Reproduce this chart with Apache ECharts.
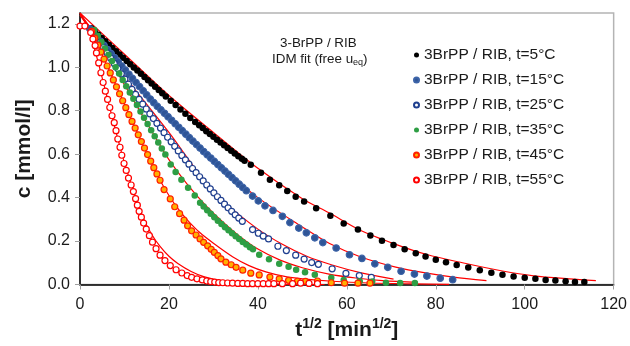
<!DOCTYPE html>
<html>
<head>
<meta charset="utf-8">
<script src="https://cdn.jsdelivr.net/npm/echarts@6/dist/echarts.min.js"></script>
<style>
  html, body { margin: 0; padding: 0; background: #fff; }
  #chart { width: 630px; height: 346px; }
</style>
</head>
<body>
<div id="chart"></div>
<script>
// legend names
const names = ['3BrPP / RIB, t=5°C', '3BrPP / RIB, t=15°C', '3BrPP / RIB, t=25°C',
  '3BrPP / RIB, t=35°C', '3BrPP / RIB, t=45°C', '3BrPP / RIB, t=55°C']

// measured points [t^1/2, c]
const d5 = [[2.5,1.18],[3.3,1.165],[4.1,1.15],[4.9,1.135],[5.7,1.12],[6.5,1.104],[7.3,1.089],[8.1,1.074],[8.9,1.059],[9.7,1.044],[10.5,1.029],[11.3,1.014],[12.1,0.999],[12.9,0.985],[13.7,0.97],[14.5,0.955],[15.3,0.94],[16.1,0.925],[16.9,0.911],[17.7,0.896],[18.5,0.881],[19.3,0.866],
  [20.4,0.846],[21.5,0.826],[22.6,0.806],[23.7,0.786],[24.8,0.767],[25.9,0.748],
  [26.8,0.733],[27.6,0.72],[28.4,0.706],[29.2,0.693],[30.0,0.68],[30.8,0.667],[31.6,0.654],[32.4,0.641],[33.2,0.628],[34.0,0.616],[34.8,0.603],[35.6,0.591],[36.4,0.579],[37.0,0.57],
  [38.4,0.551],[40.7,0.515],[42.7,0.482],[44.8,0.457],[46.6,0.43],[48.5,0.404],[50.4,0.382],[53.1,0.351],[56.3,0.316],[59.3,0.281],[62.5,0.253],[65.3,0.226],[67.9,0.202],[70.5,0.182],[73.0,0.162],[75.5,0.144],[77.7,0.129],[80.0,0.114],[82.3,0.102],[84.7,0.09],[87.3,0.078],[89.9,0.066],[92.5,0.054],[95.0,0.045],[97.5,0.037],[100.0,0.031],[102.4,0.026],[104.7,0.021],[106.9,0.018],[109.2,0.015],[111.3,0.012],[113.4,0.011]]

const d15 = [[2.2,1.177],[3.0,1.158],[3.8,1.139],[4.6,1.12],[5.4,1.101],[6.2,1.082],[7.0,1.063],[7.8,1.044],[8.6,1.025],[9.4,1.006],[10.2,0.987],[11.0,0.968],[11.8,0.949],[12.6,0.93],[13.4,0.911],[14.2,0.892],[15.0,0.873],[15.8,0.854],[16.6,0.837],[17.4,0.82],[18.2,0.804],[19.0,0.788],[19.8,0.772],[20.6,0.756],[21.4,0.74],[22.2,0.724],[23.0,0.708],[23.8,0.692],[24.6,0.676],[25.4,0.66],[26.2,0.644],[27.0,0.628],[27.8,0.612],[28.6,0.597],[29.4,0.582],[30.2,0.567],[31.0,0.552],[31.8,0.537],[32.6,0.522],[33.4,0.507],[34.2,0.492],[35.0,0.477],[35.8,0.462],[36.6,0.447],[37.4,0.432],
  [38.8,0.407],[40.1,0.385],[41.6,0.362],[43.4,0.341],[45.5,0.314],[47.2,0.285],[49.2,0.26],[50.9,0.238],[52.8,0.215],[54.6,0.193],[57.6,0.168],[60.6,0.137],[63.4,0.12],[66.3,0.095],[69.2,0.079],[72.2,0.061],[75.2,0.048],[78.0,0.039],[81.0,0.029],[83.8,0.022]]

const d25 = [[2.9,1.165],[3.7,1.14],[4.5,1.115],[5.3,1.09],[6.1,1.066],[6.9,1.042],[7.7,1.018],[8.5,0.994],[9.3,0.97],[10.1,0.946],[10.9,0.922],[11.7,0.898],[12.5,0.875],[13.3,0.852],[14.1,0.83],[14.9,0.808],[15.7,0.786],[16.5,0.764],[17.3,0.742],[18.1,0.72],[18.9,0.699],[19.7,0.678],[20.5,0.657],[21.3,0.636],[22.1,0.615],[22.9,0.594],[23.7,0.574],[24.5,0.554],[25.3,0.534],[26.1,0.515],[26.9,0.496],[27.7,0.477],[28.5,0.458],[29.3,0.44],[30.1,0.422],[30.9,0.404],[31.7,0.387],[32.5,0.37],[33.3,0.353],[34.1,0.337],[34.9,0.321],[35.7,0.306],[36.5,0.291],
  [38.8,0.253],[40.1,0.236],[41.2,0.223],[42.4,0.21],[44.5,0.176],[46.4,0.156],[48.5,0.135],[50.4,0.117],[52.1,0.101],[53.6,0.093],[56.7,0.072],[59.8,0.051],[62.8,0.041],[65.5,0.033]]

const d35 = [[3.2,1.172],[4.0,1.145],[4.8,1.116],[5.6,1.087],[6.4,1.058],[7.2,1.029],[8.0,1.0],[8.8,0.971],[9.6,0.942],[10.4,0.913],[11.2,0.884],[12.0,0.855],[12.8,0.826],[13.6,0.797],[14.4,0.768],[15.2,0.739],[16.0,0.71],[16.8,0.682],[17.6,0.654],[18.4,0.626],[19.2,0.598],
  [20.4,0.553],[21.5,0.518],[22.8,0.482],[24.3,0.446],[25.8,0.41],
  [27.0,0.376],[27.8,0.359],[28.6,0.342],[29.4,0.326],[30.2,0.31],[31.0,0.294],[31.8,0.279],[32.6,0.264],[33.4,0.25],[34.2,0.236],[35.0,0.222],[35.8,0.209],[36.6,0.196],[37.4,0.184],[38.2,0.172],[38.9,0.162],
  [40.3,0.137],[42.5,0.116],[44.8,0.095],[46.9,0.082],[48.6,0.068],[50.6,0.056],[52.8,0.045],[56.5,0.031],[59.3,0.021],[62.9,0.015],[65.7,0.014],[68.8,0.008],[72.0,0.007],[75.3,0.007]]

const d45 = [[2.6,1.165],[3.3,1.134],[4.0,1.102],[4.7,1.07],[5.4,1.038],[6.1,1.006],[6.8,0.974],[7.5,0.942],[8.2,0.91],[8.9,0.878],[9.6,0.846],[10.3,0.814],[11.0,0.782],[11.7,0.751],[12.4,0.72],[13.1,0.689],[13.8,0.658],[14.5,0.628],[15.2,0.598],[15.9,0.568],[16.6,0.538],[17.3,0.509],[18.0,0.48],
  [18.9,0.437],[20.3,0.394],[21.3,0.358],[22.4,0.326],[23.4,0.296],[24.2,0.27],[25.1,0.247],[26.1,0.228],[27.0,0.21],[27.8,0.194],[28.7,0.178],[29.5,0.162],[30.2,0.148],[31.0,0.133],[31.7,0.118],[32.8,0.103],[34.0,0.091],[35.1,0.079],[36.6,0.066],[38.4,0.052],[40.3,0.044],[42.7,0.034],[44.8,0.026],[46.9,0.019],[48.9,0.015],[50.7,0.014],[53.4,0.016],[56.5,0.008],[59.5,0.006],[62.5,0.006],[65.2,0.006]]

const d55 = [[0.0,1.19],[1.1,1.19],[2.4,1.16],[2.9,1.13],[3.4,1.1],[3.7,1.066],[4.2,1.02],[4.7,0.975],[5.2,0.93],[5.7,0.89],[6.2,0.852],[6.7,0.815],[7.2,0.777],[7.7,0.745],[8.1,0.708],[8.5,0.67],[9.0,0.632],[9.4,0.595],[9.9,0.557],[10.4,0.525],[10.9,0.49],[11.5,0.458],[12.0,0.428],[12.5,0.395],[12.9,0.365],[13.3,0.337],[13.8,0.31],[14.3,0.283],[14.9,0.255],[15.6,0.225],[16.3,0.195],[17.1,0.165],[18.0,0.135],[19.1,0.11],[20.3,0.087],[21.6,0.068],[22.9,0.053],[24.1,0.041],[25.1,0.033],[26.3,0.026],[27.5,0.021],[28.5,0.016],[29.4,0.013],[30.3,0.011],[31.2,0.009],[32.1,0.008],[33.2,0.007],[34.3,0.006],[35.5,0.005],[36.6,0.005],[37.7,0.004],[38.8,0.004],[40.0,0.004],[41.2,0.004],[42.4,0.004],[43.6,0.004],[45.5,0.004],[47.8,0.004],[49.6,0.006],[51.5,0.005],[53.4,0.004]]

// IDM fit curves
const fit5 = [[0,1.25],[10,1.06],[20,0.87],[30,0.7],[40,0.535],[50,0.395],[56,0.33],[63,0.25],[71,0.185],[78,0.138],[86,0.1],[95,0.062],[102,0.04],[110,0.026],[116,0.018]]
const fit15 = [[0,1.24],[10,1.0],[20,0.77],[30,0.57],[40,0.4],[50,0.265],[56,0.19],[63,0.128],[71,0.08],[78,0.052],[84,0.034],[91.4,0.018]]
const fit25 = [[0,1.24],[10,0.96],[20,0.7],[27,0.505],[33,0.37],[40,0.255],[45.5,0.185],[51,0.13],[56.7,0.09],[63,0.055],[70.5,0.025]]
const fit35 = [[0,1.25],[4,1.13],[8,0.99],[12,0.85],[16,0.71],[20,0.575],[24,0.465],[28,0.37],[32,0.29],[36,0.22],[40,0.163],[45,0.112],[50,0.077],[56,0.048],[62,0.03],[68,0.018],[76,0.01]]
const fit45 = [[0,1.25],[4,1.1],[8,0.92],[12,0.74],[16,0.56],[18,0.48],[20,0.41],[22,0.35],[24,0.3],[27,0.238],[30,0.19],[34.3,0.128],[38,0.087],[41.8,0.058],[46,0.037],[50,0.026],[56.7,0.015],[65,0.007],[75,0.003],[83,0.001]]
const fit55 = [[0,1.25],[2,1.17],[4,1.03],[6,0.87],[8,0.71],[10,0.56],[12,0.43],[14,0.315],[16,0.235],[18,0.175],[20,0.13],[22,0.097],[25,0.06],[28,0.035],[32,0.017],[38,0.006],[46,0.001],[55,0]]

const xTicks = [0, 20, 40, 60, 80, 100, 120]
const yTicks = [0, 0.2, 0.4, 0.6, 0.8, 1.0, 1.2]

const font = "'Liberation Sans', Arial, sans-serif"
const chart = echarts.init(document.getElementById('chart'))

function fitLine(data){
  return {
    type: 'line', data: data, smooth: 0.3,
    showSymbol: false, symbol: 'none', silent: true, z: 1,
    lineStyle: { color: '#ff0000', width: 1.2 }
  }
}
function pts(name, data, fill, border, size){
  return {
    name: name, type: 'scatter', data: data, symbolSize: size, z: 3,
    itemStyle: { color: fill, borderColor: border, borderWidth: border ? 1.2 : 0, opacity: 1 }
  }
}

const option = {
  animation: false,
  textStyle: { fontFamily: font },
  grid: { left: 80, right: 15, top: 13, bottom: 58, show: true, borderColor: '#b4b4b4', borderWidth: 1.5 },
  legend: {
    orient: 'vertical', left: 408, top: 42, itemWidth: 5, itemHeight: 5, itemGap: 9,
    textStyle: { fontSize: 15.5, color: '#1a1a1a', fontFamily: font },
    data: names
  },
  graphic: [
    { type: 'text', left: 280, top: 37, style: { text: '3-BrPP / RIB', font: '13.4px ' + font, fill: '#1a1a1a' } },
    { type: 'text', left: 272, top: 53, style: {
        text: '{n|IDM fit (free u}{s|eq}{n|)}',
        rich: {
          n: { fontSize: 13.4, fontFamily: font, fill: '#1a1a1a', lineHeight: 16 },
          s: { fontSize: 9, fontFamily: font, fill: '#1a1a1a', lineHeight: 9, verticalAlign: 'bottom' }
        }
      } }
  ],
  xAxis: {
    type: 'value', min: xTicks[0], max: xTicks[xTicks.length - 1], interval: xTicks[1] - xTicks[0],
    name: '{b|t}{s|1/2}{b| [min}{s|1/2}{b|]}', nameLocation: 'middle', nameGap: 33,
    nameTextStyle: {
      rich: {
        b: { fontSize: 21, fontWeight: 'bold', fontFamily: font, color: '#1a1a1a', lineHeight: 26 },
        s: { fontSize: 14, fontWeight: 'bold', fontFamily: font, color: '#1a1a1a', lineHeight: 14, verticalAlign: 'top' }
      }
    },
    axisLine: { lineStyle: { color: '#000', width: 1.5 } },
    axisTick: { show: true, length: 5, lineStyle: { color: '#a0a0a0' } },
    axisLabel: { fontSize: 16, color: '#1a1a1a', margin: 12 },
    splitLine: { show: false }
  },
  yAxis: {
    type: 'value', min: yTicks[0], max: 1.25, interval: 0.2,
    name: 'c [mmol/l]', nameLocation: 'middle', nameGap: 45, nameRotate: 90,
    nameTextStyle: { fontSize: 21, fontWeight: 'bold', color: '#1a1a1a' },
    axisLine: { lineStyle: { color: '#000', width: 1.5 } },
    axisTick: { show: true, length: 5, lineStyle: { color: '#a0a0a0' } },
    axisLabel: { fontSize: 16, color: '#1a1a1a', margin: 10, showMaxLabel: false,
      formatter: v => v.toFixed(1) },
    splitLine: { show: false }
  },
  series: [
    fitLine(fit5), fitLine(fit15), fitLine(fit25), fitLine(fit35), fitLine(fit45), fitLine(fit55),
    pts(names[0], d5, '#000000', null, 6.5),
    pts(names[1], d15, '#2f5597', '#3d64a8', 6.5),
    pts(names[2], d25, '#ffffff', '#1f3f8f', 6),
    pts(names[3], d35, '#2e9e44', null, 6.5),
    pts(names[4], d45, '#ffb000', '#ff2000', 6),
    pts(names[5], d55, '#ffffff', '#ff0000', 6)
  ]
}
chart.setOption(option)
</script>
</body>
</html>
